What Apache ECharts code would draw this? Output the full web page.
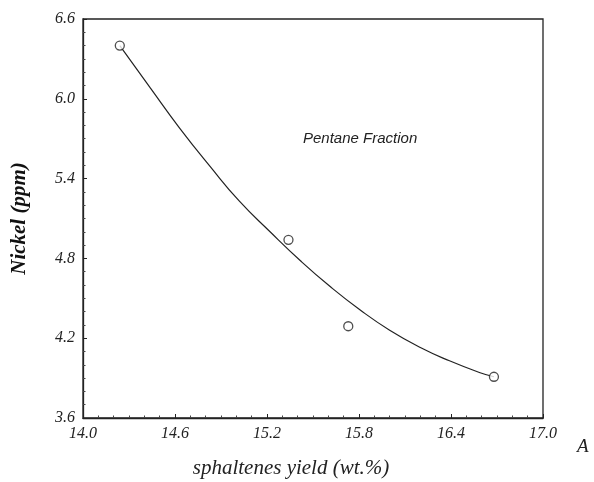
<!DOCTYPE html>
<html>
<head>
<meta charset="utf-8">
<script src="https://cdn.jsdelivr.net/npm/echarts@6/dist/echarts.min.js"></script>
<style>
html,body{margin:0;padding:0;background:#fff;}
#chart{width:594px;height:482px;}
</style>
</head>
<body>
<div id="chart"></div>
<script>
// Measured data points (asphaltenes yield wt.%, Nickel ppm)
const yieldValues = [14.24, 15.34, 15.73, 16.68];
const nickelValues = [6.40, 4.94, 4.29, 3.91];
// Fitted curve
const curveYield = [14.24, 14.44, 14.63, 14.83, 15.02, 15.22, 15.42, 15.61, 15.81, 16.00, 16.20, 16.39, 16.59, 16.68];
const curveNickel = [6.40, 6.08, 5.78, 5.49, 5.23, 5.00, 4.78, 4.59, 4.41, 4.26, 4.13, 4.03, 3.94, 3.91];

const xName = 'sphaltenes yield (wt.%)';
const yName = 'Nickel (ppm)';
const noteText = 'Pentane Fraction';

const chart = echarts.init(document.getElementById('chart'), null, {renderer: 'canvas'});
const serif = '"Liberation Serif", "Times New Roman", serif';
const axisCommon = {
  axisLine: {show: true, lineStyle: {color: '#222', width: 1.3}},
  axisTick: {show: true, inside: true, length: 4, lineStyle: {color: '#222'}},
  minorTick: {show: true, splitNumber: 6, length: 2.5, lineStyle: {color: '#444'}},
  splitLine: {show: false},
  axisLabel: {fontFamily: serif, fontStyle: 'italic', fontSize: 16, color: '#222',
    formatter: v => v.toFixed(1)}
};
chart.setOption({
  animation: false,
  backgroundColor: '#fff',
  grid: {left: 83, top: 19, right: 51, bottom: 64, outerBoundsMode: 'none', containLabel: false,
    show: true, borderColor: '#222', borderWidth: 1.3, backgroundColor: 'transparent'},
  xAxis: Object.assign({}, axisCommon, {
    type: 'value', min: 14.0, max: 17.0, interval: 0.6,
    name: xName, nameLocation: 'middle', nameGap: 40,
    nameTextStyle: {fontFamily: serif, fontStyle: 'italic', fontSize: 21, color: '#222', padding: [0, 44, 0, 0]},
    axisLabel: Object.assign({}, axisCommon.axisLabel, {margin: 8})
  }),
  yAxis: Object.assign({}, axisCommon, {
    type: 'value', min: 3.6, max: 6.6, interval: 0.6,
    name: yName, nameLocation: 'middle', nameGap: 53,
    nameTextStyle: {fontFamily: serif, fontStyle: 'italic', fontWeight: 'bold', fontSize: 21, color: '#111'},
    axisLabel: Object.assign({}, axisCommon.axisLabel, {margin: 8})
  }),
  series: [
    {
      type: 'line', smooth: true, showSymbol: false, symbol: 'none',
      data: curveYield.map((x, i) => [x, curveNickel[i]]),
      lineStyle: {color: '#222', width: 1.2}, z: 2
    },
    {
      type: 'scatter', symbol: 'circle', symbolSize: 9,
      data: yieldValues.map((x, i) => [x, nickelValues[i]]),
      itemStyle: {color: '#fff', borderColor: '#222', borderWidth: 1.3}, z: 3
    }
  ],
  graphic: [
    {type: 'text', left: 303, top: 131, style: {text: noteText, font: 'italic 15px "Liberation Sans", Arial, sans-serif', fill: '#222'}},
    {type: 'text', left: 577, top: 437, style: {text: 'A', font: 'italic 19px "Liberation Serif", serif', fill: '#222'}}
  ]
});
</script>
</body>
</html>
